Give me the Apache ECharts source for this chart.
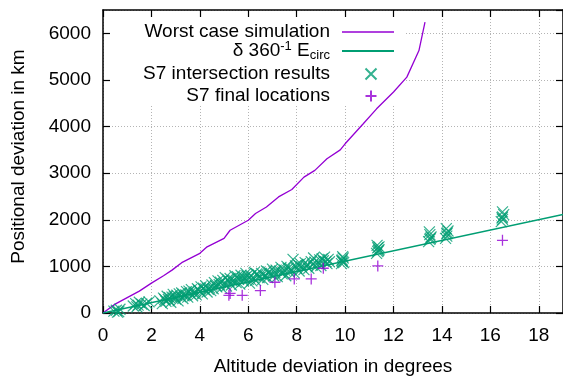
<!DOCTYPE html>
<html>
<head>
<meta charset="utf-8">
<script src="https://cdn.jsdelivr.net/npm/echarts@6/dist/echarts.min.js"></script>
<style>
  html, body { margin: 0; padding: 0; background: #fff; }
  #chart { width: 563px; height: 382px; }
</style>
</head>
<body>
<div id="chart"></div>
<script>
// worst case simulation curve
const worstX = [0, 0.5, 1.0, 1.5, 2.0, 2.5, 2.85, 3.25, 4.0, 4.3, 5.0, 5.25, 6.0, 6.3, 6.75, 7.25, 7.8, 8.3, 8.75, 9.25, 9.8, 10.0, 10.75, 11.3, 12.0, 12.55, 13.05, 13.3];
const worstY = [0, 190, 330, 470, 640, 800, 920, 1080, 1280, 1420, 1600, 1775, 1990, 2135, 2275, 2490, 2650, 2915, 3060, 3310, 3500, 3630, 4060, 4380, 4740, 5060, 5630, 6240];

// delta / 360 * E_circ
const circX = [0, 19];
const circY = [0, 2115];

// S7 intersection results
const s7X = [
  0.45, 0.55, 0.65, 0.7, 0.6,
  1.25, 1.35, 1.45, 1.5, 1.6, 1.7, 1.8, 1.9, 1.4,
  2.35, 2.45, 2.5, 2.6, 2.65, 2.7, 2.8, 2.85, 2.9, 3.0, 3.05, 3.1, 3.2, 3.25, 3.3, 3.4,
  3.45, 3.5, 3.6, 3.65, 3.7, 3.8, 3.85, 3.9, 4.0, 4.05, 4.1, 4.2, 4.25, 4.3, 4.4, 4.45,
  2.55, 2.75, 2.95, 3.15, 3.35, 3.55, 3.75, 3.95, 4.15, 4.35,
  4.5, 4.55, 4.6, 4.7, 4.75, 4.8, 4.9, 4.95, 5.0, 5.05, 5.1, 5.2, 5.25, 5.3, 5.4, 5.45,
  5.5, 5.6, 5.65, 5.7, 5.8, 5.85, 5.9, 6.0, 6.05, 6.1, 6.2, 6.25, 6.3, 6.4, 6.45,
  4.65, 4.85, 5.15, 5.35, 5.55, 5.75, 5.95, 6.15, 6.35,
  6.55, 6.6, 6.7, 6.75, 6.8, 6.9, 7.0, 7.05, 7.1, 7.2, 7.3, 7.35, 7.4, 7.5, 7.55, 7.6,
  7.7, 7.75, 7.85, 7.9, 8.0, 8.05, 8.1, 8.2, 8.3, 8.35, 8.4, 8.5, 8.6, 8.65, 8.7, 8.8,
  8.9, 8.95, 9.0, 9.1, 9.15, 9.25, 9.3, 9.35,
  6.65, 6.85, 7.15, 7.45, 7.65, 7.95, 8.15, 8.45, 8.75, 9.05, 9.2,
  9.85, 9.9, 9.88, 9.92, 9.9, 9.86, 9.94,
  11.3, 11.35, 11.4, 11.35, 11.32, 11.38, 11.4,
  13.45, 13.5, 13.55, 13.5, 13.48, 13.52,
  14.15, 14.2, 14.2, 14.25, 14.18, 14.22,
  16.45, 16.5, 16.5, 16.55, 16.5, 16.48
];
const s7Y = [
  40, 60, 30, 80, 20,
  150, 200, 170, 230, 190, 160, 210, 240, 130,
  260, 200, 320, 250, 360, 290, 230, 340, 400, 300, 380, 260, 350, 430, 310, 390,
  460, 340, 420, 500, 370, 450, 390, 520, 460, 560, 410, 500, 580, 450, 540, 480,
  290, 330, 350, 410, 370, 470, 420, 490, 530, 510,
  600, 520, 650, 560, 690, 610, 540, 700, 630, 760, 580, 670, 740, 600, 700, 800,
  650, 730, 620, 810, 690, 760, 850, 720, 640, 800, 760, 870, 700, 820, 760,
  590, 660, 720, 680, 780, 740, 800, 690, 840,
  850, 720, 800, 900, 760, 840, 940, 800, 870, 780, 900, 980, 840, 920, 800, 1000,
  880, 950, 1150, 860, 960, 1040, 900, 990, 930, 1080, 1010, 960, 1100, 1030, 1180, 990,
  1080, 1140, 1020, 1120, 1200, 1060, 1150, 1100,
  790, 880, 920, 870, 960, 1010, 1060, 1040, 1090, 1160, 1100,
  1060, 1100, 1140, 1180, 1210, 1120, 1080,
  1280, 1320, 1360, 1400, 1450, 1340, 1420,
  1530, 1580, 1630, 1680, 1740, 1600,
  1600, 1650, 1700, 1760, 1810, 1720,
  1960, 2010, 2060, 2110, 2170, 2040
];

// S7 final locations
const finalX = [5.2, 5.25, 5.75, 6.5, 7.1, 7.9, 8.6, 9.1, 11.35, 16.5];
const finalY = [380, 420, 380, 480, 660, 730, 730, 960, 1010, 1560];

const xTicks = [0, 2, 4, 6, 8, 10, 12, 14, 16, 18];
const yTicks = [0, 1000, 2000, 3000, 4000, 5000, 6000];

const purple = "#9400d3",
  green = "#009e73",
  font = "Liberation Sans, Arial, sans-serif";

const zip = (xs, ys) => xs.map((x, i) => [x, ys[i]]);

const crossPath = "path://M0,0L10,10M10,0L0,10";
const plusPath = "path://M5,0L5,10M0,5L10,5";

const legendText = {
  fontFamily: font,
  fontSize: 19,
  color: "#000",
  lineHeight: 22,
  padding: [0, 7, 0, 0],
};

const legendBase = {
  orient: "vertical",
  align: "right",
  right: 169,
  itemWidth: 52,
  itemHeight: 11,
  padding: 0,
  selectedMode: false,
  textStyle: legendText,
};

const axisCommon = {
  type: "value",
  axisLine: { show: true, onZero: false, lineStyle: { color: "#000", width: 1.5 } },
  axisTick: { show: true, inside: true, length: 7, lineStyle: { color: "#000", width: 1.2 } },
  splitLine: { show: false },
};

const chart = echarts.init(document.getElementById("chart"), null, { renderer: "canvas" });

chart.setOption({
  animation: false,
  backgroundColor: "#fff",
  textStyle: { fontFamily: font },
  grid: { left: 103, right: -1, top: 10, bottom: 69 },
  graphic: [
    {
      type: "rect",
      z: 1,
      shape: { x: 112, y: 19, width: 293, height: 87 },
      style: { fill: "#fff" },
    },
  ],
  legend: [
    Object.assign({}, legendBase, {
      data: [{ name: "Worst case simulation", icon: "path://M0,0L52,0L52,1.4L0,1.4Z" }],
      top: 21,
    }),
    Object.assign({}, legendBase, {
      data: [{ name: "circ", icon: "path://M0,0L52,0L52,2L0,2Z" }],
      top: 40,
      formatter: () => "{n|δ 360}{sup|-1}{n| E}{sub|circ}",
      textStyle: Object.assign({}, legendText, {
        rich: {
          n: { fontFamily: font, fontSize: 19, lineHeight: 22, color: "#000" },
          sup: { fontFamily: font, fontSize: 13, lineHeight: 10, verticalAlign: "top", color: "#000" },
          sub: { fontFamily: font, fontSize: 13, lineHeight: 8, verticalAlign: "bottom", color: "#000" },
        },
      }),
    }),
    Object.assign({}, legendBase, {
      data: ["S7 intersection results"],
      top: 63,
      right: 184,
      textStyle: Object.assign({}, legendText, { padding: [0, 10, 0, 0] }),
    }),
    Object.assign({}, legendBase, {
      data: ["S7 final locations"],
      top: 85,
      right: 184,
      textStyle: Object.assign({}, legendText, { padding: [0, 10, 0, 0] }),
    }),
  ],
  xAxis: [
    Object.assign({}, axisCommon, {
      position: "bottom",
      min: 0,
      max: 19,
      interval: 2,
      name: "Altitude deviation in degrees",
      nameLocation: "middle",
      nameGap: 44,
      nameTextStyle: { fontFamily: font, fontSize: 19, color: "#000" },
      axisLabel: {
        fontFamily: font,
        fontSize: 19,
        color: "#000",
        margin: 13,
        showMaxLabel: false,
        formatter: (v) => (xTicks.includes(v) ? String(v) : ""),
      },
      splitLine: {
        show: true,
        lineStyle: { color: "#b4b4b4", width: 1, type: [1, 2] },
      },
    }),
    Object.assign({}, axisCommon, {
      position: "top",
      min: 0,
      max: 19,
      interval: 2,
      axisLabel: { show: false },
    }),
  ],
  yAxis: [
    Object.assign({}, axisCommon, {
      position: "left",
      min: 0,
      max: 6500,
      interval: 1000,
      name: "Positional deviation in km",
      nameLocation: "middle",
      nameGap: 75,
      nameTextStyle: { fontFamily: font, fontSize: 19, color: "#000", padding: [0, 0, 0, 10] },
      axisLabel: {
        fontFamily: font,
        fontSize: 19,
        color: "#000",
        margin: 12,
        showMaxLabel: false,
        formatter: (v) => (yTicks.includes(v) ? String(v) : ""),
      },
      splitLine: {
        show: true,
        lineStyle: { color: "#b4b4b4", width: 1, type: [1, 2] },
      },
    }),
    Object.assign({}, axisCommon, {
      position: "right",
      min: 0,
      max: 6500,
      interval: 1000,
      axisLabel: { show: false },
    }),
  ],
  series: [
    {
      name: "Worst case simulation",
      type: "line",
      data: zip(worstX, worstY),
      showSymbol: false,
      symbol: "none",
      z: 3,
      lineStyle: { color: purple, width: 1.3 },
      itemStyle: { color: purple },
    },
    {
      name: "circ",
      type: "line",
      data: zip(circX, circY),
      showSymbol: false,
      symbol: "none",
      z: 3,
      lineStyle: { color: green, width: 1.5 },
      itemStyle: { color: green },
    },
    {
      name: "S7 intersection results",
      type: "scatter",
      data: zip(s7X, s7Y),
      symbol: crossPath,
      symbolSize: 11,
      z: 4,
      itemStyle: { color: "none", borderColor: green, borderWidth: 1.2 },
    },
    {
      name: "S7 final locations",
      type: "scatter",
      data: zip(finalX, finalY),
      symbol: plusPath,
      symbolSize: 11,
      z: 5,
      itemStyle: { color: "none", borderColor: purple, borderWidth: 1.3 },
    },
  ],
});
</script>
</body>
</html>
